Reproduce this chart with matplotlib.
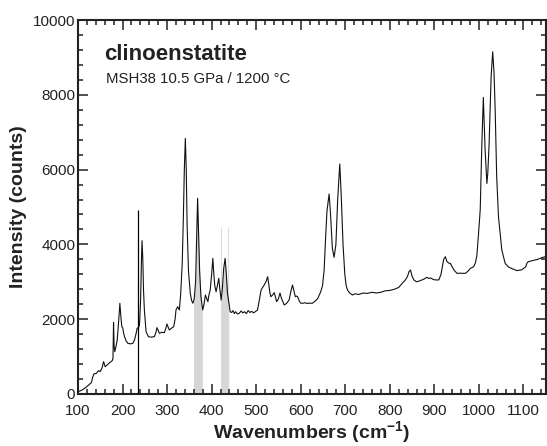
import numpy as np
import matplotlib
matplotlib.use("Agg")
import matplotlib.pyplot as plt
from matplotlib.ticker import MultipleLocator

plt.rcParams['font.family'] = ['Liberation Sans', 'DejaVu Sans']
plt.rcParams['mathtext.fontset'] = 'custom'
plt.rcParams['mathtext.rm'] = 'Liberation Sans'
plt.rcParams['mathtext.bf'] = 'Liberation Sans:bold'
plt.rcParams['mathtext.it'] = 'Liberation Sans:italic'

# ---- data ----
wavenumber = [100, 108, 115, 122, 130, 133, 136, 141, 146, 150, 154, 157.4, 161, 166, 171, 176.8,
              178.5, 179.8, 181, 182.5, 185, 188, 191, 194, 196, 198.4, 200.7, 202, 204.4, 208,
              212, 218, 223, 227, 230.5, 232.7, 236, 238, 240.5, 242.5, 243.8, 245.5, 247, 249,
              252.8, 258, 264, 271.5, 275, 277.4, 280, 282.7, 288, 294, 297, 299.8, 302, 305,
              310, 314.8, 318, 320, 323.7, 327.5, 330, 331, 334, 336.5, 338.7, 341, 343, 345,
              348, 352, 355, 358, 361, 364, 366.5, 368.5, 370.5, 373, 376, 380, 383, 386, 389,
              391.6, 394, 396.8, 400, 402.7, 405, 407, 410, 413, 416, 418.5, 421.4, 424, 427,
              430.3, 433, 435.5, 437.8, 441.6, 445, 448, 451, 454, 458, 462, 466, 470, 474, 478,
              482, 486, 490, 494, 498, 503, 507, 511, 514.5, 518, 522, 525.8, 528, 531, 533, 537,
              540.7, 543, 546, 550, 553.5, 557, 563, 568, 574, 578, 581.6, 585, 588, 590, 593,
              597, 600, 604, 610, 615, 620, 626, 632, 638, 645, 649, 652.6, 656, 659, 663.8, 667,
              671, 675, 679, 683, 687.7, 691, 695, 699, 702, 705, 710, 716, 722, 730, 740, 750,
              760, 770, 780, 790, 800, 810, 820, 828, 835, 840, 843, 846.5, 850, 854, 860, 866,
              872, 878, 883, 887, 892, 898, 903, 910, 915, 918, 921, 924.8, 928, 932, 936, 940,
              945, 951, 958, 964, 970, 976, 981, 988, 992, 995.5, 999, 1003, 1006.7, 1010, 1012,
              1014, 1018, 1020, 1023, 1027.5, 1031, 1034, 1036.6, 1040, 1044, 1051.5, 1059, 1066,
              1075, 1085, 1096, 1105, 1108, 1111, 1118, 1125, 1132, 1140, 1149]
intensity = [60, 100, 150, 220, 303, 450, 540, 550, 624, 600, 700, 865, 730, 780, 838, 891,
             950, 1907, 1300, 1132, 1250, 1444, 1900, 2425, 2100, 1800, 1760, 1650, 1533, 1420,
             1355, 1340, 1355, 1450, 1622, 1756, 1780, 1845, 2500, 3600, 4100, 3600, 2800, 2246,
             1666, 1533, 1520, 1533, 1650, 1774, 1700, 1622, 1650, 1640, 1750, 1872, 1800, 1711,
             1760, 1800, 2000, 2246, 2335, 2246, 2600, 2780, 3500, 4700, 6000, 6836, 6000, 4500,
             3300, 2700, 2500, 2425, 2550, 3000, 4200, 5232, 4400, 3300, 2600, 2246, 2400, 2647, 2550,
             2468, 2650, 2780, 3200, 3627, 3200, 2900, 2735, 2900, 3093, 2800, 2513, 2800, 3350,
             3627, 3200, 2700, 2513, 2200, 2180, 2230, 2150, 2200, 2140, 2157, 2220, 2170, 2200, 2150,
             2230, 2180, 2210, 2170, 2200, 2246, 2500, 2780, 2850, 2914, 3000, 3137, 2950, 2700, 2602, 2650,
             2710, 2600, 2468, 2550, 2700, 2550, 2380, 2420, 2513, 2750, 2914, 2750, 2600, 2620, 2602,
             2480, 2430, 2425, 2440, 2420, 2430, 2425, 2480, 2550, 2735, 2900, 3315, 4207, 4900, 5348, 4800,
             3900, 3654, 4000, 5200, 6150, 5300, 4000, 3200, 2900, 2780, 2700, 2647, 2680, 2660, 2700, 2690,
             2720, 2700, 2720, 2760, 2770, 2800, 2850, 2960, 3050, 3150, 3270, 3315, 3150, 3050, 3000, 3020,
             3050, 3080, 3120, 3093, 3100, 3060, 3050, 3050, 3200, 3400, 3600, 3672, 3550, 3500, 3494, 3400,
             3300, 3227, 3230, 3227, 3227, 3290, 3360, 3400, 3500, 3700, 4250, 4920, 6700, 7930, 7200,
             6524, 5630, 5900, 6700, 8484, 9150, 8600, 7590, 5810, 4740, 3850, 3494, 3400,
             3350, 3300, 3320, 3400, 3500, 3538, 3560, 3580, 3600, 3640, 3672]

spike_x = 235
spike_top = 4920

band_ranges = [(359.5, 379.0), (420.6, 438.5)]
band_line_x = [421.0, 437.5]
band_line_top = 4456

title = "clinoenstatite"
subtitle = "MSH38 10.5 GPa / 1200 °C"
x_ticks = [100, 200, 300, 400, 500, 600, 700, 800, 900, 1000, 1100]
y_ticks = [0, 2000, 4000, 6000, 8000, 10000]

wn = np.array(wavenumber, dtype=float)
it = np.array(intensity, dtype=float)

fig = plt.figure(figsize=(5.47, 4.46), dpi=100)
ax = fig.add_axes([0.1426, 0.1166, 0.855, 0.8385])

# gray bands under the curve
for a, b in band_ranges:
    xs = np.linspace(a, b, 40)
    ax.fill_between(xs, 0, np.interp(xs, wn, it), color='#d6d6d6', lw=0, zorder=1)
for xl in band_line_x:
    ax.vlines(xl, 0, band_line_top, color='#dcdcdc', lw=0.8, zorder=1)

ax.plot(wn, it, color='#111111', lw=0.8, zorder=3)
ax.vlines(spike_x, 0, spike_top, color='black', lw=0.9, zorder=3)

ax.set_xlim(100, 1150)
ax.set_ylim(0, 10000)
ax.set_xticks(x_ticks)
ax.set_yticks(y_ticks)
ax.xaxis.set_minor_locator(MultipleLocator(20))
ax.yaxis.set_minor_locator(MultipleLocator(400))
ax.tick_params(which='both', direction='in', top=True, right=True, width=1.1, color='#222222')
ax.tick_params(which='major', length=7, labelsize=11, labelcolor='#222222')
ax.tick_params(which='minor', length=3.5)
ax.tick_params(axis='x', which='major', pad=7)
ax.tick_params(axis='y', which='major', pad=2)
for s in ax.spines.values():
    s.set_linewidth(1.5)
    s.set_color('#222222')

ax.set_xlabel(r'Wavenumbers (cm$^{\mathbf{-1}}$)', fontsize=14, fontweight='bold',
              color='#222222', labelpad=1)
ax.set_ylabel('Intensity (counts)', fontsize=14, fontweight='bold', color='#222222', labelpad=4)

ax.text(0.056, 0.893, title, transform=ax.transAxes, fontsize=16, fontweight='bold',
        color='#222222', va='baseline', ha='left')
ax.text(0.060, 0.831, subtitle, transform=ax.transAxes, fontsize=10.8,
        color='#222222', va='baseline', ha='left')

fig.savefig('out.png', dpi=100)
